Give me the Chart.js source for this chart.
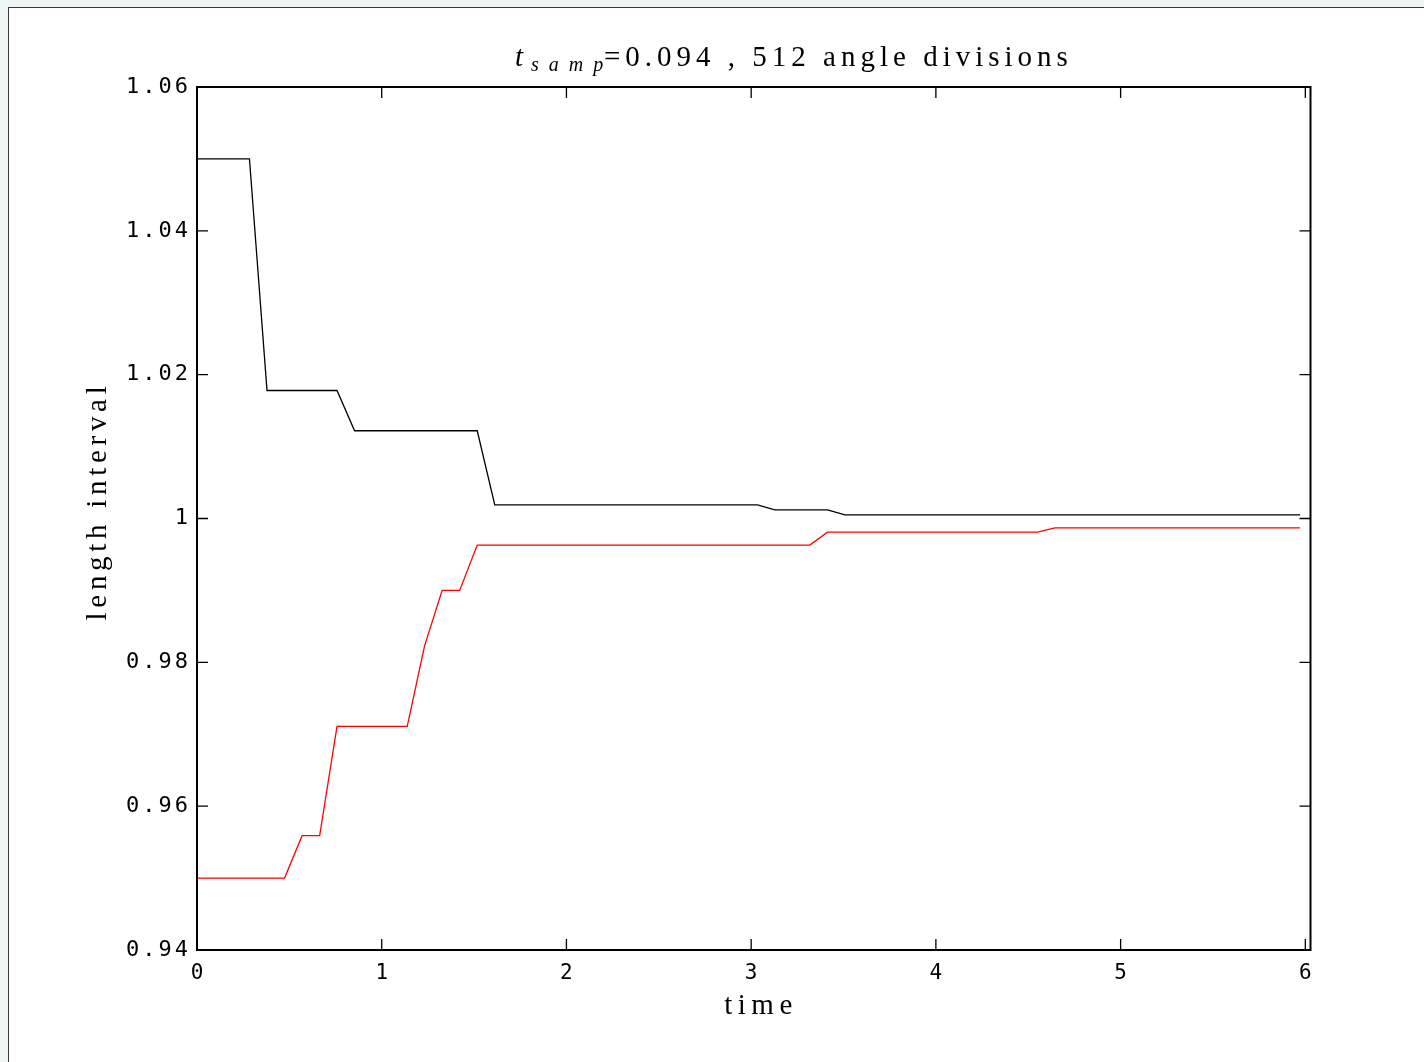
<!DOCTYPE html>
<html>
<head>
<meta charset="utf-8">
<script src="https://cdn.jsdelivr.net/npm/chart.js@4/dist/chart.umd.min.js"></script>
<style>
  body { margin: 0; background: #eef5f5; }
  #panel { position: absolute; left: 8px; top: 7px; width: 1416px; height: 1055px; background: #fff;
           border-left: 1px solid #3a3a3a; border-top: 1px solid #3a3a3a; }
  #c { position: absolute; left: 0; top: 0; }
</style>
</head>
<body>
<div id="panel"></div>
<canvas id="c" width="1424" height="1062"></canvas>
<script>
// upper bound of the interval (black)
const upperTime   = [0, 0.284, 0.379, 0.758, 0.853, 1.517, 1.612, 3.034, 3.128, 3.413, 3.508, 5.972];
const upperLength = [1.05, 1.05, 1.0178, 1.0178, 1.0122, 1.0122, 1.0019, 1.0019, 1.0012, 1.0012, 1.0005, 1.0005];

// lower bound of the interval (red)
const lowerTime   = [0, 0.474, 0.569, 0.664, 0.758, 1.138, 1.232, 1.327, 1.422, 1.517, 3.318, 3.413, 4.550, 4.645, 5.972];
const lowerLength = [0.95, 0.95, 0.9559, 0.9559, 0.9711, 0.9711, 0.9823, 0.99, 0.99, 0.9963, 0.9963, 0.9981, 0.9981, 0.9987, 0.9987];

const xTickValues = [0, 1, 2, 3, 4, 5, 6];
const yTickValues = [0.94, 0.96, 0.98, 1.00, 1.02, 1.04, 1.06];

const toPoints = (xs, ys) => xs.map((x, i) => ({ x: x, y: ys[i] }));

// box all round, ticks pointing inwards on every side
const frame = {
  id: 'frame',
  beforeDraw(chart) {
    chart.ctx.letterSpacing = '3px';
  },
  afterDatasetsDraw(chart) {
    const ctx = chart.ctx;
    const { left, right, top, bottom } = chart.chartArea;
    const xs = chart.scales.x, ys = chart.scales.y;
    ctx.save();
    ctx.strokeStyle = '#000';
    ctx.lineWidth = 1.3;
    ctx.beginPath();
    xTickValues.forEach(v => {
      const px = xs.getPixelForValue(v);
      ctx.moveTo(px, bottom); ctx.lineTo(px, bottom - 11);
      ctx.moveTo(px, top); ctx.lineTo(px, top + 11);
    });
    yTickValues.forEach(v => {
      const py = ys.getPixelForValue(v);
      ctx.moveTo(left, py); ctx.lineTo(left + 11, py);
      ctx.moveTo(right, py); ctx.lineTo(right - 11, py);
    });
    ctx.stroke();
    ctx.lineWidth = 2;
    ctx.strokeRect(left, top, right - left, bottom - top);
    ctx.restore();
  },
  afterDraw(chart) {
    const ctx = chart.ctx;
    ctx.save();
    ctx.fillStyle = '#000';
    ctx.textBaseline = 'alphabetic';

    // title: t_samp=0.094 , 512 angle divisions
    ctx.letterSpacing = '0px';
    ctx.font = 'italic 29px "Liberation Serif"';
    ctx.fillText('t', 515, 66);
    ctx.letterSpacing = '10px';
    ctx.font = 'italic 20px "Liberation Serif"';
    ctx.fillText('samp', 531, 71);
    ctx.letterSpacing = '5px';
    ctx.font = '29px "Liberation Serif"';
    ctx.fillText('=0.094 , 512 angle divisions', 604, 66);

    // x axis title
    ctx.textAlign = 'center';
    ctx.letterSpacing = '5.5px';
    ctx.fillText('time', 761, 1014);

    // y axis title
    ctx.letterSpacing = '4.7px';
    ctx.translate(106, 501);
    ctx.rotate(-Math.PI / 2);
    ctx.fillText('length interval', 0, 0);
    ctx.restore();
    ctx.letterSpacing = '0px';
  }
};

new Chart(document.getElementById('c'), {
  type: 'line',
  data: {
    datasets: [
      { data: toPoints(upperTime, upperLength), borderColor: '#000', borderWidth: 1.3 },
      { data: toPoints(lowerTime, lowerLength), borderColor: '#ff0000', borderWidth: 1.3 }
    ]
  },
  options: {
    responsive: false,
    animation: false,
    layout: { padding: { left: 0, top: 87, right: 113.5, bottom: 0 } },
    elements: { point: { radius: 0 }, line: { tension: 0 } },
    plugins: { legend: { display: false }, title: { display: false }, tooltip: { enabled: false } },
    scales: {
      x: {
        type: 'linear',
        min: 0,
        max: 6.028,
        grid: { display: false, drawTicks: false },
        border: { display: false },
        afterBuildTicks: s => { s.ticks = xTickValues.map(v => ({ value: v })); },
        afterFit: s => { s.height = 112; },
        ticks: {
          color: '#000',
          padding: 11,
          labelOffset: 1.5,
          maxRotation: 0,
          font: { family: 'DejaVu Sans Mono', size: 21 },
          callback: v => String(v)
        }
      },
      y: {
        min: 0.94,
        max: 1.06,
        grid: { display: false, drawTicks: false },
        border: { display: false },
        afterBuildTicks: s => { s.ticks = yTickValues.map(v => ({ value: v })); },
        afterFit: s => { s.width = 197; },
        ticks: {
          color: '#000',
          padding: 6,
          font: { family: 'DejaVu Sans Mono', size: 22 },
          callback: v => String(+v.toFixed(2))
        }
      }
    }
  },
  plugins: [frame]
});
</script>
</body>
</html>
